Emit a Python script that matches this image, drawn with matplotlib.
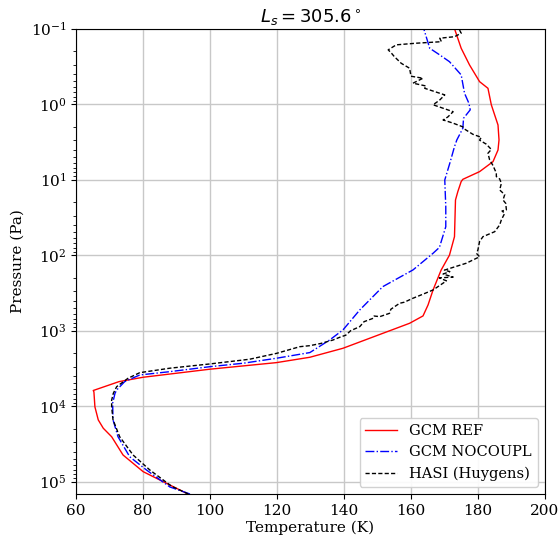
import numpy as np
import matplotlib
matplotlib.use("Agg")
import matplotlib.pyplot as plt

plt.rcParams['font.family'] = ['DejaVu Serif']

# GCM REF (solid red)
ref_temp = [93.4, 88.0, 80.0, 74.0, 70.6, 68.1, 66.6, 65.6, 65.3, 65.1,
            72.8, 80.0, 99.9, 119.8, 129.8, 139.7, 159.6, 163.6, 165.1, 166.6,
            169.0, 171.5, 173.0, 173.3, 174.0, 175.0, 175.5, 180.5, 184.5, 186.0,
            186.3, 186.0, 185.0, 184.0, 183.0, 180.5, 177.5, 175.0, 173.0]
ref_pres = [1.456e5, 1.107e5, 7.36e4, 4.43e4, 2.54e4, 1.96e4, 1.52e4, 1.02e4, 6460, 6200,
            4730, 4140, 3240, 2650, 2250, 1710, 798, 638, 457, 289,
            158, 100, 56.9, 18.6, 14.4, 10.6, 9.9, 7.83, 5.78, 4.05,
            2.98, 1.89, 1.39, 1.02, 0.617, 0.504, 0.303, 0.182, 0.1]

# GCM NOCOUPL (blue dash-dot)
nocoupl_temp = [94.0, 88.0, 81.0, 76.0, 72.5, 71.0, 70.9, 71.6, 72.1, 74.5,
                79.0, 88.0, 99.9, 109.9, 119.8, 129.8, 135.7, 139.7, 144.7, 151.6,
                160.6, 166.6, 168.5, 170.4, 170.4, 170.1, 171.6, 173.0, 173.7, 175.5,
                175.7, 177.7, 177.3, 176.0, 175.0, 171.5, 168.6, 165.6, 164.1, 163.8]
nocoupl_pres = [1.456e5, 1.175e5, 7.0e4, 4.68e4, 2.54e4, 1.51e4, 9120, 6760, 6100, 4730,
                3860, 3490, 3000, 2700, 2320, 1950, 1330, 977, 532, 261,
                157, 94.4, 79, 42, 22.8, 10.1, 6.07, 3.66, 2.98, 2.09,
                1.54, 1.19, 0.973, 0.718, 0.41, 0.274, 0.223, 0.182, 0.110, 0.1]

# HASI (Huygens) (black dashed)
hasi_temp = [93.5, 88.5, 82.0, 77.0, 73.0, 71.0, 70.6, 70.6, 71.1, 72.1,
             75.5, 79.0, 88.0, 99.9, 111.8, 119.8, 126.8, 129.8, 133.0, 136.7,
             139.0, 140.5, 142.0, 144.7, 146.0, 148.7, 149.0, 150.7, 153.6, 154.0,
             156.6, 158.0, 160.6, 163.5, 166.6,
             170.6, 168.5, 172.6, 169.6, 171.6, 170.0, 172.6, 176.5, 180.5, 179.6,
             180.0, 180.5, 181.5, 185.0, 186.5, 187.0, 188.0, 187.2, 188.5, 188.3,
             187.5, 188.0, 186.5, 187.0, 186.5, 185.5, 185.5, 184.5, 183.5, 183.0,
             184.0, 182.5, 180.5, 181.0, 178.5, 176.0, 175.5, 172.5, 169.6, 171.0,
             172.6, 166.6, 168.5, 170.1, 164.1, 164.5, 160.6, 163.6, 160.0, 159.6,
             157.1, 156.6, 155.0, 154.2, 153.2, 155.6, 161.6, 169.1, 168.6, 173.0,
             175.0, 174.5, 175.5]
hasi_pres = [1.456e5, 1.148e5, 7.0e4, 4.43e4, 2.54e4, 1.51e4, 1.02e4, 8320, 6760, 5520,
             4270, 3600, 3140, 2760, 2390, 2000, 1630, 1580, 1480, 1330,
             1210, 1150, 1000, 885, 760, 686, 640, 652, 589, 520,
             434, 420, 372, 330, 289,
             219, 200, 195, 178, 165, 158, 145, 128, 105, 95,
             85, 66, 56.9, 48.9, 39.8, 34.1, 27.9, 26.0, 25.1, 20.6,
             18.6, 15.8, 13.7, 11.2, 9.8, 9.1, 8.2, 6.5, 5.48, 4.47,
             3.98, 3.39, 3.0, 2.75, 2.51, 2.14, 2.0, 1.78, 1.62, 1.48,
             1.26, 1.02, 0.89, 0.755, 0.617, 0.575, 0.528, 0.454, 0.427, 0.335,
             0.288, 0.274, 0.234, 0.212, 0.191, 0.164, 0.156, 0.149, 0.134, 0.128,
             0.115, 0.104, 0.102]

fig = plt.figure(figsize=(5.6, 5.4), dpi=100)
ax = fig.add_axes([0.136, 0.085, 0.837, 0.862])

ax.plot(ref_temp, ref_pres, color='red', lw=1.0, ls='-', label='GCM REF')
ax.plot(nocoupl_temp, nocoupl_pres, color='blue', lw=1.0, ls='-.', label='GCM NOCOUPL')
ax.plot(hasi_temp, hasi_pres, color='black', lw=1.0, ls='--', dashes=(3, 1.6),
        label='HASI (Huygens)')

ax.set_yscale('log')
ax.set_ylim(1.46e5, 0.1)
ax.set_xlim(60, 200)
ax.set_xticks(np.arange(60, 201, 20))
ax.grid(True, which='major', color='#c8c8c8', lw=1.0)
ax.set_axisbelow(True)
ax.tick_params(labelsize=11)

ax.set_xlabel('Temperature (K)', fontsize=11, labelpad=2)
ax.set_ylabel('Pressure (Pa)', fontsize=11)
ax.set_title(r'$L_s=305.6^\circ$', fontsize=13, pad=4)

ax.legend(loc='lower right', fontsize=10.5, handlelength=2.2, framealpha=0.9)

fig.savefig('out.png', dpi=100)
